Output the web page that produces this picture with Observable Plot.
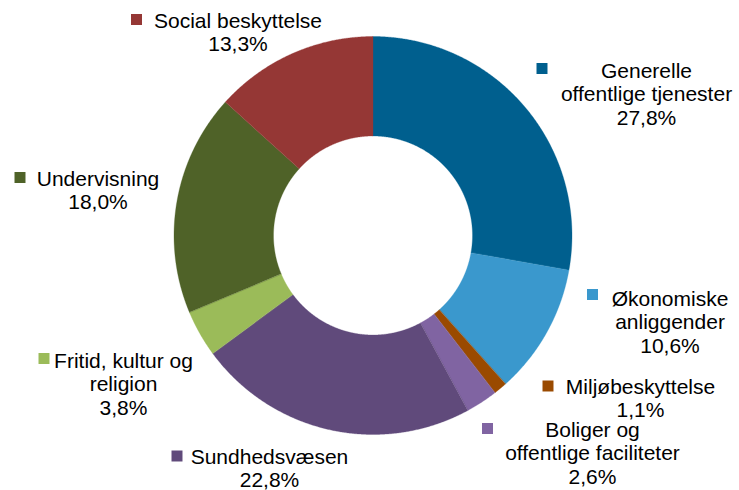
<!DOCTYPE html>
<html>
<head>
<meta charset="utf-8">
<script src="https://cdn.jsdelivr.net/npm/d3@7"></script>
<script src="https://cdn.jsdelivr.net/npm/@observablehq/plot@0.6"></script>
<style>
  html, body { margin: 0; padding: 0; background: #fff; }
  #chart svg { display: block; }
</style>
</head>
<body>
<div id="chart"></div>
<script>
// ---- Data ----
const categories = [
  "Generelle offentlige tjenester",
  "Økonomiske anliggender",
  "Miljøbeskyttelse",
  "Boliger og offentlige faciliteter",
  "Sundhedsvæsen",
  "Fritid, kultur og religion",
  "Undervisning",
  "Social beskyttelse"
];
const shares = [27.8, 10.6, 1.1, 2.6, 22.8, 3.8, 18.0, 13.3];
const labelLines = [
  ["Generelle", "offentlige tjenester"],
  ["Økonomiske", "anliggender"],
  ["Miljøbeskyttelse"],
  ["Boliger og", "offentlige faciliteter"],
  ["Sundhedsvæsen"],
  ["Fritid, kultur og", "religion"],
  ["Undervisning"],
  ["Social beskyttelse"]
];
const colors = ["#005F8E", "#3A98CD", "#9A4A00", "#8064A2", "#604A7B", "#9BBB59", "#4F6228", "#953735"];

// ---- Layout (pixel units of the 739x490 frame) ----
const W = 739, H = 490;
const cx = 372.5, cy = 235, R = 199, r0 = 99.5;
// label block: centre x, first baseline y, key square centre
const labelLayout = [
  {x: 646,   y: 77,  kx: 541.5, ky: 68},
  {x: 669.5, y: 305, kx: 592,   ky: 294},
  {x: 640,   y: 393, kx: 547.5, ky: 385.5},
  {x: 592,   y: 436, kx: 487,   ky: 428},
  {x: 269,   y: 463, kx: 176.5, ky: 455.5},
  {x: 123,   y: 367, kx: 43.5,  ky: 358},
  {x: 97.5,  y: 185, kx: 19.5,  ky: 177},
  {x: 237.5, y: 27,  kx: 136,   ky: 19}
];
const lineStep = 23.5;
const fontSize = 21;

// ---- Build slice polygons from the pie layout ----
const pie = d3.pie().sort(null).value(d => d.value)
  .startAngle(0).endAngle(2 * Math.PI);
const rows = categories.map((c, i) => ({cat: c, value: shares[i]}));
const arcs = pie(rows);
const poly = [];
arcs.forEach(a => {
  const n = Math.max(4, Math.ceil((a.endAngle - a.startAngle) / 0.005));
  for (let k = 0; k <= n; k++) {
    const t = a.startAngle + (a.endAngle - a.startAngle) * k / n;
    poly.push({cat: a.data.cat, x: cx + R * Math.sin(t), y: cy - R * Math.cos(t)});
  }
  for (let k = n; k >= 0; k--) {
    const t = a.startAngle + (a.endAngle - a.startAngle) * k / n;
    poly.push({cat: a.data.cat, x: cx + r0 * Math.sin(t), y: cy - r0 * Math.cos(t)});
  }
});

// ---- Labels ----
const fmt = v => v.toFixed(1).replace(".", ",") + "%";
const textRows = [];
categories.forEach((c, i) => {
  const lines = [...labelLines[i], fmt(shares[i])];
  lines.forEach((s, j) => {
    textRows.push({
      text: s,
      x: labelLayout[i].x,
      y: labelLayout[i].y + j * lineStep - 0.32 * fontSize
    });
  });
});
const keys = categories.map((c, i) => ({cat: c, x: labelLayout[i].kx, y: labelLayout[i].ky}));

const chart = Plot.plot({
  width: W,
  height: H,
  margin: 0,
  style: {fontFamily: "'Liberation Sans', Arial, sans-serif", background: "#fff"},
  x: {domain: [0, W], range: [0, W], axis: null},
  y: {domain: [0, H], range: [0, H], axis: null},
  color: {domain: categories, range: colors},
  marks: [
    Plot.line(poly, {x: "x", y: "y", z: "cat", fill: "cat", stroke: "cat", strokeWidth: 0.3, curve: "linear-closed"}),
    Plot.dot(keys, {x: "x", y: "y", fill: "cat", symbol: "square", r: 6.2, stroke: "none"}),
    Plot.text(textRows, {x: "x", y: "y", text: "text", fontSize: fontSize, fill: "#000", textAnchor: "middle"})
  ]
});
document.getElementById("chart").appendChild(chart);
</script>
</body>
</html>
